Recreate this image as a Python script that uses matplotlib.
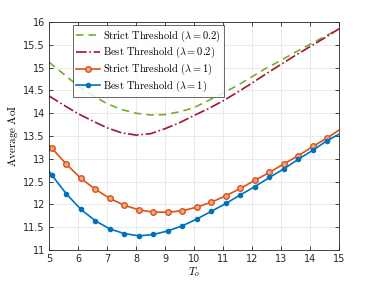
import numpy as np
import matplotlib
matplotlib.use("Agg")
from matplotlib import pyplot as plt

# dashed curves (lambda = 0.2), sampled every 0.5
t_coarse = [5, 5.5, 6, 6.5, 7, 7.5, 8, 8.5, 9, 9.5, 10,
            10.5, 11, 11.5, 12, 12.5, 13, 13.5, 14, 14.5, 15]
strict_02 = [15.12, 14.86, 14.60, 14.39, 14.21, 14.08, 14.00, 13.96, 13.97, 14.03, 14.12,
             14.28, 14.44, 14.61, 14.80, 14.99, 15.16, 15.34, 15.51, 15.68, 15.85]
best_02 = [14.38, 14.18, 13.99, 13.83, 13.68, 13.57, 13.52, 13.55, 13.66, 13.79, 13.95,
           14.10, 14.27, 14.46, 14.66, 14.87, 15.07, 15.27, 15.46, 15.65, 15.85]

# marker curves (lambda = 1)
t_fine = [5.0, 5.1, 5.6, 6.1, 6.6, 7.1, 7.6, 8.1, 8.6, 9.1, 9.6,
          10.1, 10.6, 11.1, 11.6, 12.1, 12.6, 13.1, 13.6, 14.1, 14.6, 15.0]
strict_1 = [13.30, 13.23, 12.88, 12.57, 12.33, 12.13, 11.98, 11.88, 11.83, 11.83, 11.86,
            11.94, 12.05, 12.19, 12.35, 12.53, 12.70, 12.89, 13.07, 13.27, 13.46, 13.63]
best_1 = [12.73, 12.64, 12.23, 11.89, 11.64, 11.46, 11.36, 11.31, 11.34, 11.42, 11.53,
          11.68, 11.85, 12.02, 12.21, 12.39, 12.59, 12.78, 12.99, 13.19, 13.40, 13.54]

plt.rcParams['mathtext.fontset'] = 'cm'

fig = plt.figure(figsize=(3.75, 2.81), dpi=100)
ax = fig.add_axes([49/375, 1 - 250/281, 290/375, 228/281])

marks = list(range(1, len(t_fine) - 1))
ax.plot(t_coarse, strict_02, '--', color='#77AC30', lw=1.2, dashes=(4.5, 3),
        label=r'$\mathrm{Strict\ Threshold}\ (\lambda = 0.2)$')
ax.plot(t_coarse, best_02, '-.', color='#A2142F', lw=1.2,
        label=r'$\mathrm{Best\ Threshold}\ (\lambda = 0.2)$')
ax.plot(t_fine, strict_1, '-', color='#D95319', lw=1.2, marker='o', ms=4,
        mfc='#F2A883', mec='#D95319', mew=1.0, markevery=marks,
        label=r'$\mathrm{Strict\ Threshold}\ (\lambda = 1)$')
ax.plot(t_fine, best_1, '-', color='#0072BD', lw=1.2, marker='o', ms=3,
        mfc='#0072BD', mec='#0072BD', markevery=marks,
        label=r'$\mathrm{Best\ Threshold}\ (\lambda = 1)$')

ax.set_xlim(5, 15)
ax.set_ylim(11, 16)
ax.set_xticks(range(5, 16))
ax.set_yticks(np.arange(11, 16.01, 0.5))
ax.set_yticklabels(['11', '11.5', '12', '12.5', '13', '13.5', '14', '14.5', '15', '15.5', '16'])
ax.tick_params(direction='in', top=True, right=True, labelsize=7, length=3,
               width=0.6, colors='#262626', pad=3)
ax.grid(True, color='#e6e6e6', lw=0.6)
ax.set_axisbelow(True)
for s in ax.spines.values():
    s.set_color('#262626')
    s.set_linewidth(0.6)

ax.set_xlabel(r'$T_o$', fontsize=8, labelpad=1)
ax.set_ylabel(r'$\mathrm{Average\ AoI}$', fontsize=8, labelpad=2)

leg = ax.legend(loc='upper left', bbox_to_anchor=(0.075, 0.995), fontsize=7.5,
                frameon=True, fancybox=False, edgecolor='#262626',
                handlelength=2.3, handletextpad=0.3, labelspacing=0.15,
                borderpad=0.3, borderaxespad=0.2)
leg.get_frame().set_linewidth(0.6)

fig.savefig('out.png', dpi=100)
plt.close()
